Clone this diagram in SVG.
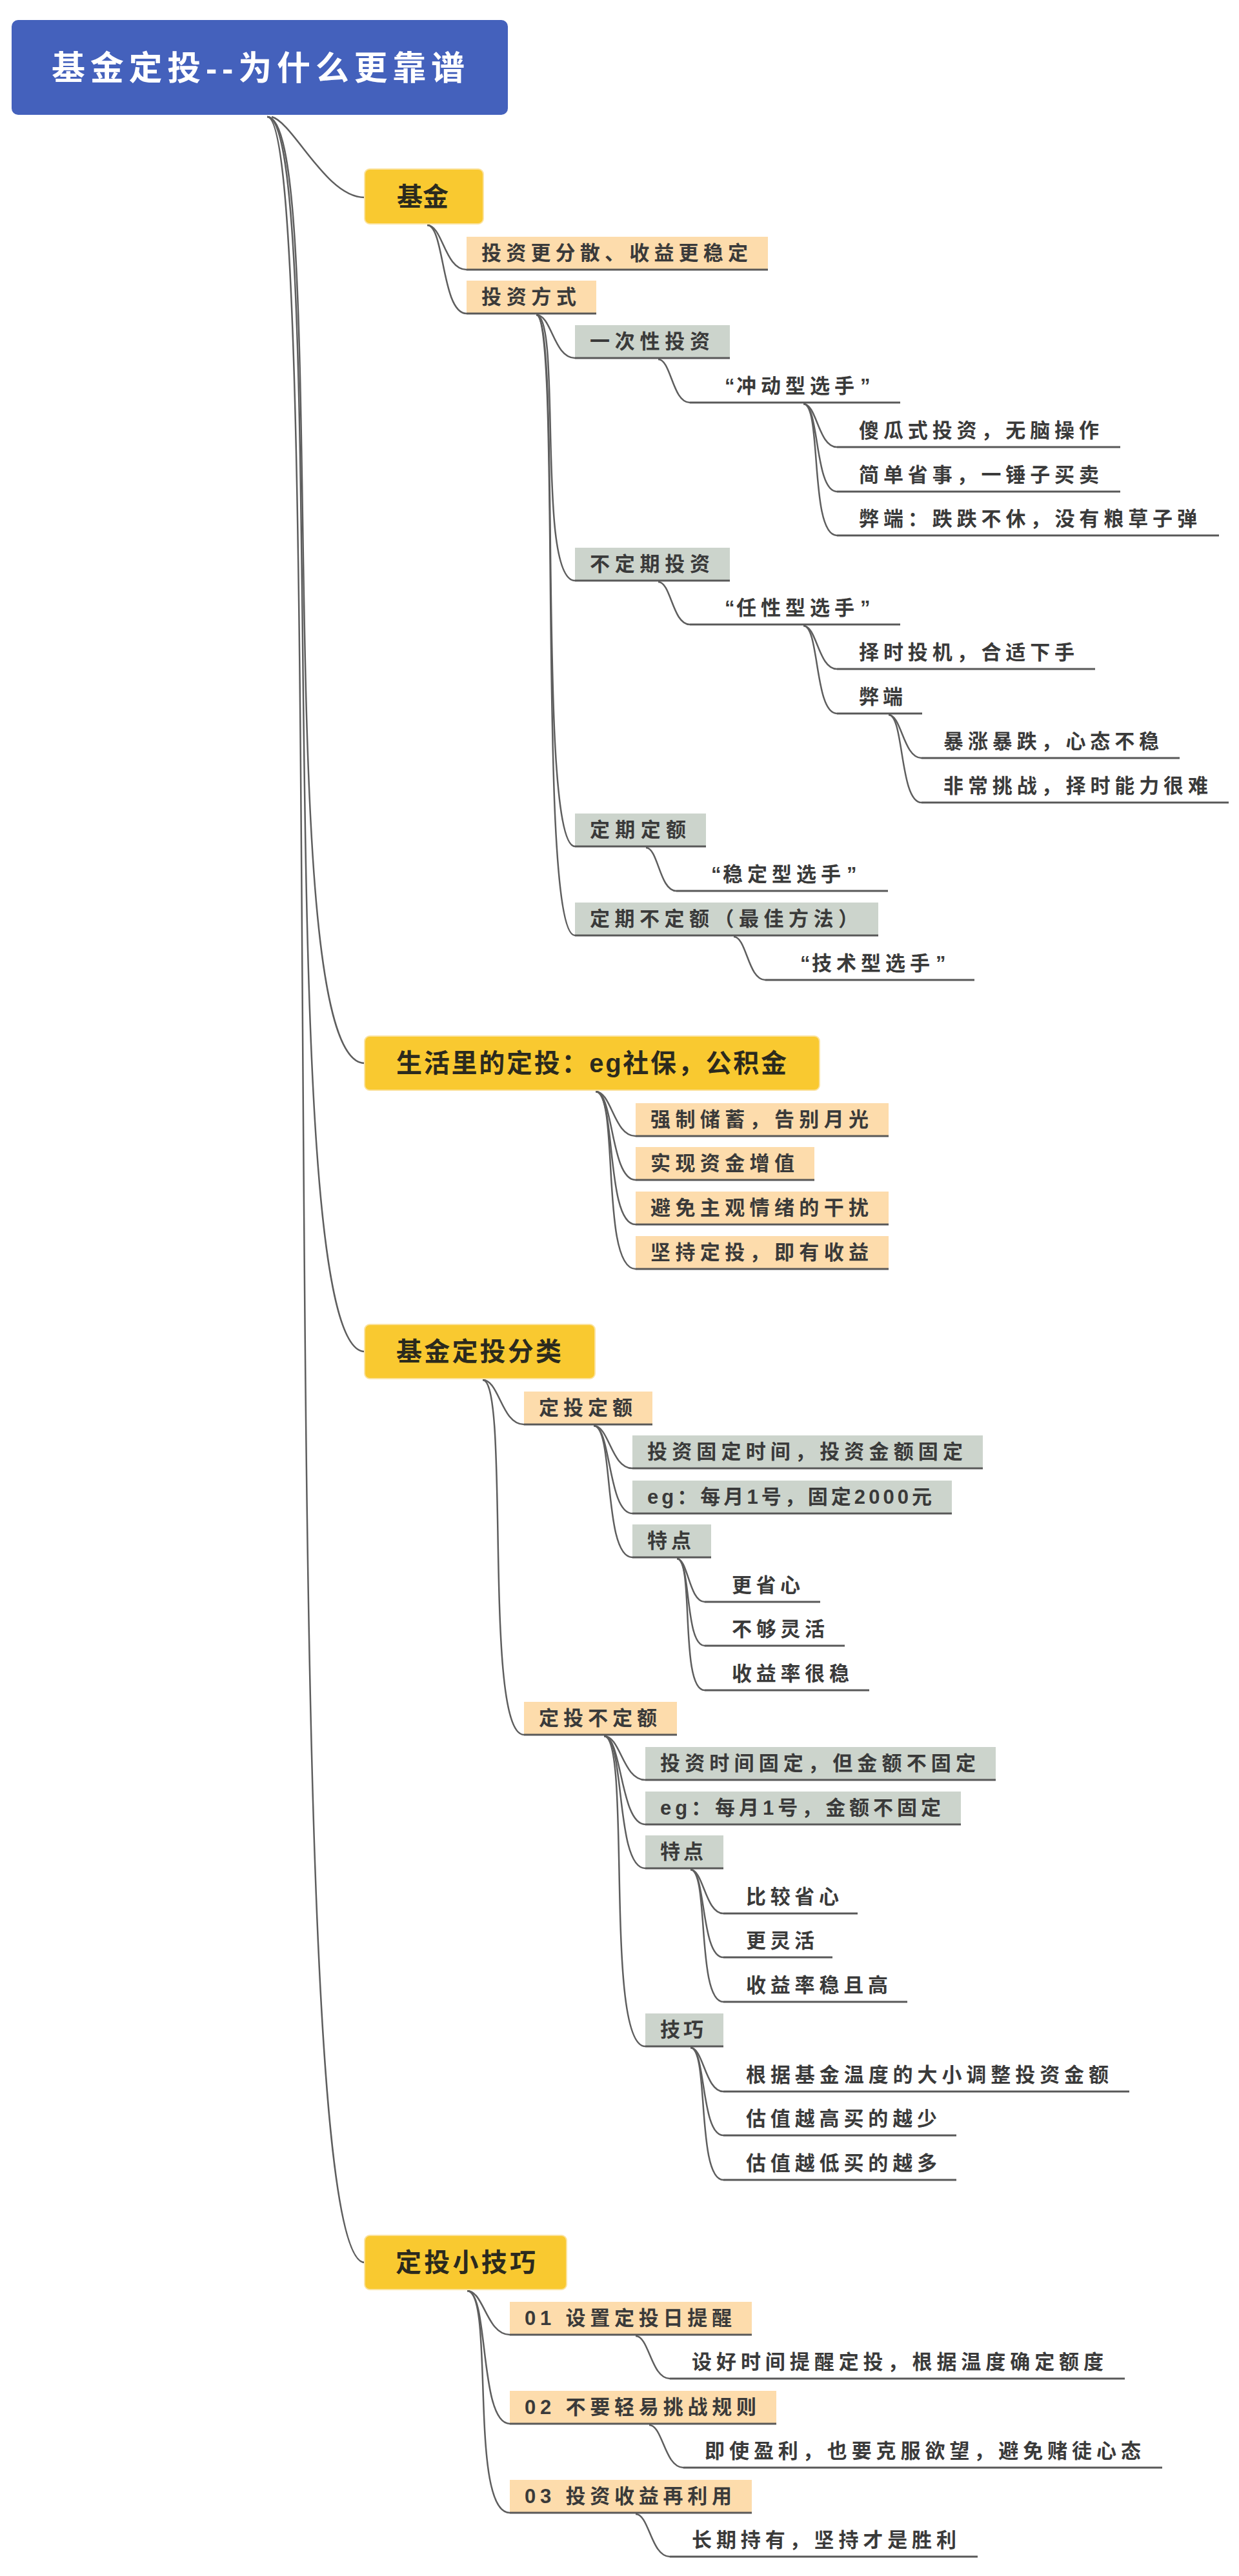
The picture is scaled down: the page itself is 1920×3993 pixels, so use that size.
<svg xmlns="http://www.w3.org/2000/svg" width="1920" height="3993" viewBox="0 0 1920 3993">
<style>
text{font-family:"Liberation Sans","Noto Sans CJK SC",sans-serif;font-weight:700;dominant-baseline:central}
.t{font-size:31px;fill:#3a3a3a}
.tm{font-size:40px;fill:#2b2a1e}
.tr{font-size:52px;fill:#ffffff}
.q{letter-spacing:7px}
.root{fill:#4461BC}
.main{fill:#F9C930;stroke:#FBE3A0;stroke-width:2}
.pe{fill:#FDDCAC}
.gr{fill:#CCD4CC}
.ul{stroke:#585858;stroke-width:3;fill:none}
#connectors path{fill:none;stroke:#5e5e5e;stroke-width:2.5}
</style>
<rect width="1920" height="3993" fill="#ffffff"/>
<g id="connectors">
<path d="M421,181 C455,190 505,306 565,306"/>
<path d="M414,181 C515,181 414,1648 565,1648"/>
<path d="M414,181 C515,181 414,2095 565,2095"/>
<path d="M414,181 C515,181 414,3507 565,3507"/>
<path d="M662,349 C686,349 689,418 723,418"/>
<path d="M662,349 C689,349 684,486 723,486"/>
<path d="M831,488 C855,488 858,555 891,555"/>
<path d="M831,488 C871,488 831,900 891,900"/>
<path d="M831,488 C871,488 831,1312 891,1312"/>
<path d="M831,488 C871,488 831,1450 891,1450"/>
<path d="M1020,557 C1040,557 1042,624 1069,624"/>
<path d="M1245,626 C1266,626 1268,693 1297,693"/>
<path d="M1245,626 C1270,626 1262,762 1297,762"/>
<path d="M1245,626 C1274,626 1254,830 1297,830"/>
<path d="M1020,902 C1040,902 1042,968 1069,968"/>
<path d="M1245,970 C1266,970 1268,1037 1297,1037"/>
<path d="M1245,970 C1270,970 1262,1106 1297,1106"/>
<path d="M1377,1108 C1397,1108 1400,1175 1428,1175"/>
<path d="M1377,1108 C1401,1108 1394,1244 1428,1244"/>
<path d="M1001,1314 C1020,1314 1022,1381 1048,1381"/>
<path d="M1137,1452 C1157,1452 1159,1519 1186,1519"/>
<path d="M923,1692 C948,1692 951,1761 985,1761"/>
<path d="M923,1692 C951,1692 946,1829 985,1829"/>
<path d="M923,1692 C955,1692 938,1898 985,1898"/>
<path d="M923,1692 C960,1692 930,1967 985,1967"/>
<path d="M748,2139 C774,2139 777,2208 812,2208"/>
<path d="M748,2139 C791,2139 748,2689 812,2689"/>
<path d="M920,2210 C944,2210 947,2276 980,2276"/>
<path d="M920,2210 C947,2210 942,2346 980,2346"/>
<path d="M920,2210 C952,2210 934,2414 980,2414"/>
<path d="M1049,2416 C1066,2416 1068,2483 1092,2483"/>
<path d="M1049,2416 C1071,2416 1061,2551 1092,2551"/>
<path d="M1049,2416 C1076,2416 1053,2620 1092,2620"/>
<path d="M936,2691 C962,2691 965,2759 1000,2759"/>
<path d="M936,2691 C964,2691 961,2828 1000,2828"/>
<path d="M936,2691 C969,2691 953,2896 1000,2896"/>
<path d="M936,2691 C979,2691 936,3172 1000,3172"/>
<path d="M1070,2898 C1090,2898 1093,2966 1121,2966"/>
<path d="M1070,2898 C1094,2898 1086,3034 1121,3034"/>
<path d="M1070,2898 C1099,2898 1079,3103 1121,3103"/>
<path d="M1070,3174 C1090,3174 1093,3242 1121,3242"/>
<path d="M1070,3174 C1094,3174 1086,3310 1121,3310"/>
<path d="M1070,3174 C1099,3174 1079,3379 1121,3379"/>
<path d="M724,3551 C750,3551 754,3619 790,3619"/>
<path d="M724,3551 C758,3551 742,3757 790,3757"/>
<path d="M724,3551 C767,3551 726,3895 790,3895"/>
<path d="M985,3621 C1006,3621 1009,3687 1038,3687"/>
<path d="M1006,3759 C1027,3759 1030,3825 1059,3825"/>
<path d="M985,3897 C1006,3897 1009,3963 1038,3963"/>
</g>
<g id="root"><rect class="root" x="18" y="31" width="769" height="147" rx="10"/><text class="tr" x="80" y="106" textLength="640" lengthAdjust="spacing">基金定投--为什么更靠谱</text></g>
<g id="n-jijin"><rect class="main" x="565" y="262" width="184" height="85" rx="8"/><text class="tm" x="615" y="305" textLength="80" lengthAdjust="spacing">基金</text></g>
<g id="n-fensan"><rect class="pe" x="723" y="367" width="467" height="51"/><line class="ul" x1="723" y1="418" x2="1190" y2="418"/><text class="t" x="746" y="392" textLength="413" lengthAdjust="spacing">投资更分散、收益更稳定</text></g>
<g id="n-fangshi"><rect class="pe" x="723" y="435" width="201" height="51"/><line class="ul" x1="723" y1="486" x2="924" y2="486"/><text class="t" x="746" y="460" textLength="147" lengthAdjust="spacing">投资方式</text></g>
<g id="n-yici"><rect class="gr" x="891" y="504" width="240" height="51"/><line class="ul" x1="891" y1="555" x2="1131" y2="555"/><text class="t" x="914" y="529" textLength="186" lengthAdjust="spacing">一次性投资</text></g>
<g id="n-chongdong"><line class="ul" x1="1069" y1="624" x2="1395" y2="624"/><text class="t" y="598"><tspan x="1123">“</tspan><tspan class="q" x="1141">冲动型选手</tspan><tspan x="1333">”</tspan></text></g>
<g id="n-shagua"><line class="ul" x1="1297" y1="693" x2="1736" y2="693"/><text class="t" x="1331" y="667" textLength="372" lengthAdjust="spacing">傻瓜式投资，无脑操作</text></g>
<g id="n-jiandan"><line class="ul" x1="1297" y1="762" x2="1736" y2="762"/><text class="t" x="1331" y="736" textLength="372" lengthAdjust="spacing">简单省事，一锤子买卖</text></g>
<g id="n-biduan1"><line class="ul" x1="1297" y1="830" x2="1889" y2="830"/><text class="t" x="1331" y="804" textLength="524" lengthAdjust="spacing">弊端：跌跌不休，没有粮草子弹</text></g>
<g id="n-budingqi"><rect class="gr" x="891" y="849" width="240" height="51"/><line class="ul" x1="891" y1="900" x2="1131" y2="900"/><text class="t" x="914" y="874" textLength="186" lengthAdjust="spacing">不定期投资</text></g>
<g id="n-renxing"><line class="ul" x1="1069" y1="968" x2="1395" y2="968"/><text class="t" y="942"><tspan x="1123">“</tspan><tspan class="q" x="1141">任性型选手</tspan><tspan x="1333">”</tspan></text></g>
<g id="n-zeshi"><line class="ul" x1="1297" y1="1037" x2="1697" y2="1037"/><text class="t" x="1331" y="1011" textLength="334" lengthAdjust="spacing">择时投机，合适下手</text></g>
<g id="n-biduan2"><line class="ul" x1="1297" y1="1106" x2="1429" y2="1106"/><text class="t" x="1331" y="1080" textLength="68" lengthAdjust="spacing">弊端</text></g>
<g id="n-baozhang"><line class="ul" x1="1428" y1="1175" x2="1828" y2="1175"/><text class="t" x="1462" y="1149" textLength="334" lengthAdjust="spacing">暴涨暴跌，心态不稳</text></g>
<g id="n-feichang"><line class="ul" x1="1428" y1="1244" x2="1904" y2="1244"/><text class="t" x="1462" y="1218" textLength="410" lengthAdjust="spacing">非常挑战，择时能力很难</text></g>
<g id="n-dingqidinge"><rect class="gr" x="891" y="1261" width="203" height="51"/><line class="ul" x1="891" y1="1312" x2="1094" y2="1312"/><text class="t" x="914" y="1286" textLength="149" lengthAdjust="spacing">定期定额</text></g>
<g id="n-wending"><line class="ul" x1="1048" y1="1381" x2="1376" y2="1381"/><text class="t" y="1355"><tspan x="1102">“</tspan><tspan class="q" x="1120">稳定型选手</tspan><tspan x="1312">”</tspan></text></g>
<g id="n-dingqibudinge"><rect class="gr" x="891" y="1399" width="470" height="51"/><line class="ul" x1="891" y1="1450" x2="1361" y2="1450"/><text class="t" x="914" y="1424" textLength="416" lengthAdjust="spacing">定期不定额（最佳方法）</text></g>
<g id="n-jishu"><line class="ul" x1="1186" y1="1519" x2="1510" y2="1519"/><text class="t" y="1493"><tspan x="1240">“</tspan><tspan class="q" x="1258">技术型选手</tspan><tspan x="1450">”</tspan></text></g>
<g id="n-shenghuo"><rect class="main" x="565" y="1606" width="705" height="84" rx="8"/><text class="tm" x="614" y="1648" textLength="605" lengthAdjust="spacing">生活里的定投：eg社保，公积金</text></g>
<g id="n-qiangzhi"><rect class="pe" x="985" y="1710" width="392" height="51"/><line class="ul" x1="985" y1="1761" x2="1377" y2="1761"/><text class="t" x="1008" y="1735" textLength="338" lengthAdjust="spacing">强制储蓄，告别月光</text></g>
<g id="n-shixian"><rect class="pe" x="985" y="1778" width="277" height="51"/><line class="ul" x1="985" y1="1829" x2="1262" y2="1829"/><text class="t" x="1008" y="1803" textLength="223" lengthAdjust="spacing">实现资金增值</text></g>
<g id="n-bimian"><rect class="pe" x="985" y="1847" width="392" height="51"/><line class="ul" x1="985" y1="1898" x2="1377" y2="1898"/><text class="t" x="1008" y="1872" textLength="338" lengthAdjust="spacing">避免主观情绪的干扰</text></g>
<g id="n-jianchi"><rect class="pe" x="985" y="1916" width="392" height="51"/><line class="ul" x1="985" y1="1967" x2="1377" y2="1967"/><text class="t" x="1008" y="1941" textLength="338" lengthAdjust="spacing">坚持定投，即有收益</text></g>
<g id="n-fenlei"><rect class="main" x="565" y="2053" width="357" height="84" rx="8"/><text class="tm" x="614" y="2095" textLength="256" lengthAdjust="spacing">基金定投分类</text></g>
<g id="n-dingtoudinge"><rect class="pe" x="812" y="2157" width="199" height="51"/><line class="ul" x1="812" y1="2208" x2="1011" y2="2208"/><text class="t" x="835" y="2182" textLength="145" lengthAdjust="spacing">定投定额</text></g>
<g id="n-g5"><rect class="gr" x="980" y="2225" width="543" height="51"/><line class="ul" x1="980" y1="2276" x2="1523" y2="2276"/><text class="t" x="1003" y="2250" textLength="489" lengthAdjust="spacing">投资固定时间，投资金额固定</text></g>
<g id="n-g6"><rect class="gr" x="980" y="2295" width="495" height="51"/><line class="ul" x1="980" y1="2346" x2="1475" y2="2346"/><text class="t" x="1003" y="2320" textLength="441" lengthAdjust="spacing">eg：每月1号，固定2000元</text></g>
<g id="n-g7"><rect class="gr" x="980" y="2363" width="122" height="51"/><line class="ul" x1="980" y1="2414" x2="1102" y2="2414"/><text class="t" x="1003" y="2388" textLength="68" lengthAdjust="spacing">特点</text></g>
<g id="n-gengshengxin"><line class="ul" x1="1092" y1="2483" x2="1271" y2="2483"/><text class="t" x="1134" y="2457" textLength="106" lengthAdjust="spacing">更省心</text></g>
<g id="n-bugou"><line class="ul" x1="1092" y1="2551" x2="1309" y2="2551"/><text class="t" x="1134" y="2525" textLength="144" lengthAdjust="spacing">不够灵活</text></g>
<g id="n-henwen"><line class="ul" x1="1092" y1="2620" x2="1347" y2="2620"/><text class="t" x="1134" y="2594" textLength="182" lengthAdjust="spacing">收益率很稳</text></g>
<g id="n-dingtoubudinge"><rect class="pe" x="812" y="2638" width="237" height="51"/><line class="ul" x1="812" y1="2689" x2="1049" y2="2689"/><text class="t" x="835" y="2663" textLength="183" lengthAdjust="spacing">定投不定额</text></g>
<g id="n-g8"><rect class="gr" x="1000" y="2708" width="543" height="51"/><line class="ul" x1="1000" y1="2759" x2="1543" y2="2759"/><text class="t" x="1023" y="2733" textLength="489" lengthAdjust="spacing">投资时间固定，但金额不固定</text></g>
<g id="n-g9"><rect class="gr" x="1000" y="2777" width="489" height="51"/><line class="ul" x1="1000" y1="2828" x2="1489" y2="2828"/><text class="t" x="1023" y="2802" textLength="435" lengthAdjust="spacing">eg：每月1号，金额不固定</text></g>
<g id="n-g10"><rect class="gr" x="1000" y="2845" width="121" height="51"/><line class="ul" x1="1000" y1="2896" x2="1121" y2="2896"/><text class="t" x="1023" y="2870" textLength="67" lengthAdjust="spacing">特点</text></g>
<g id="n-bijiao"><line class="ul" x1="1121" y1="2966" x2="1329" y2="2966"/><text class="t" x="1156" y="2940" textLength="144" lengthAdjust="spacing">比较省心</text></g>
<g id="n-genglinghuo"><line class="ul" x1="1121" y1="3034" x2="1290" y2="3034"/><text class="t" x="1156" y="3008" textLength="106" lengthAdjust="spacing">更灵活</text></g>
<g id="n-wenqiegao"><line class="ul" x1="1121" y1="3103" x2="1406" y2="3103"/><text class="t" x="1156" y="3077" textLength="220" lengthAdjust="spacing">收益率稳且高</text></g>
<g id="n-g11"><rect class="gr" x="1000" y="3121" width="121" height="51"/><line class="ul" x1="1000" y1="3172" x2="1121" y2="3172"/><text class="t" x="1023" y="3146" textLength="67" lengthAdjust="spacing">技巧</text></g>
<g id="n-genju"><line class="ul" x1="1121" y1="3242" x2="1750" y2="3242"/><text class="t" x="1156" y="3216" textLength="562" lengthAdjust="spacing">根据基金温度的大小调整投资金额</text></g>
<g id="n-gaoshao"><line class="ul" x1="1121" y1="3310" x2="1482" y2="3310"/><text class="t" x="1156" y="3284" textLength="296" lengthAdjust="spacing">估值越高买的越少</text></g>
<g id="n-diduo"><line class="ul" x1="1121" y1="3379" x2="1482" y2="3379"/><text class="t" x="1156" y="3353" textLength="296" lengthAdjust="spacing">估值越低买的越多</text></g>
<g id="n-jiqiao"><rect class="main" x="565" y="3465" width="313" height="84" rx="8"/><text class="tm" x="613" y="3507" textLength="217" lengthAdjust="spacing">定投小技巧</text></g>
<g id="n-01"><rect class="pe" x="790" y="3568" width="375" height="51"/><line class="ul" x1="790" y1="3619" x2="1165" y2="3619"/><text class="t" x="813" y="3593" textLength="321" lengthAdjust="spacing">01 设置定投日提醒</text></g>
<g id="n-sheh"><line class="ul" x1="1038" y1="3687" x2="1743" y2="3687"/><text class="t" x="1072" y="3661" textLength="638" lengthAdjust="spacing">设好时间提醒定投，根据温度确定额度</text></g>
<g id="n-02"><rect class="pe" x="790" y="3706" width="413" height="51"/><line class="ul" x1="790" y1="3757" x2="1203" y2="3757"/><text class="t" x="813" y="3731" textLength="359" lengthAdjust="spacing">02 不要轻易挑战规则</text></g>
<g id="n-jishi"><line class="ul" x1="1059" y1="3825" x2="1801" y2="3825"/><text class="t" x="1092" y="3799" textLength="676" lengthAdjust="spacing">即使盈利，也要克服欲望，避免赌徒心态</text></g>
<g id="n-03"><rect class="pe" x="790" y="3844" width="375" height="51"/><line class="ul" x1="790" y1="3895" x2="1165" y2="3895"/><text class="t" x="813" y="3869" textLength="321" lengthAdjust="spacing">03 投资收益再利用</text></g>
<g id="n-changqi"><line class="ul" x1="1038" y1="3963" x2="1515" y2="3963"/><text class="t" x="1072" y="3937" textLength="410" lengthAdjust="spacing">长期持有，坚持才是胜利</text></g>
</svg>
